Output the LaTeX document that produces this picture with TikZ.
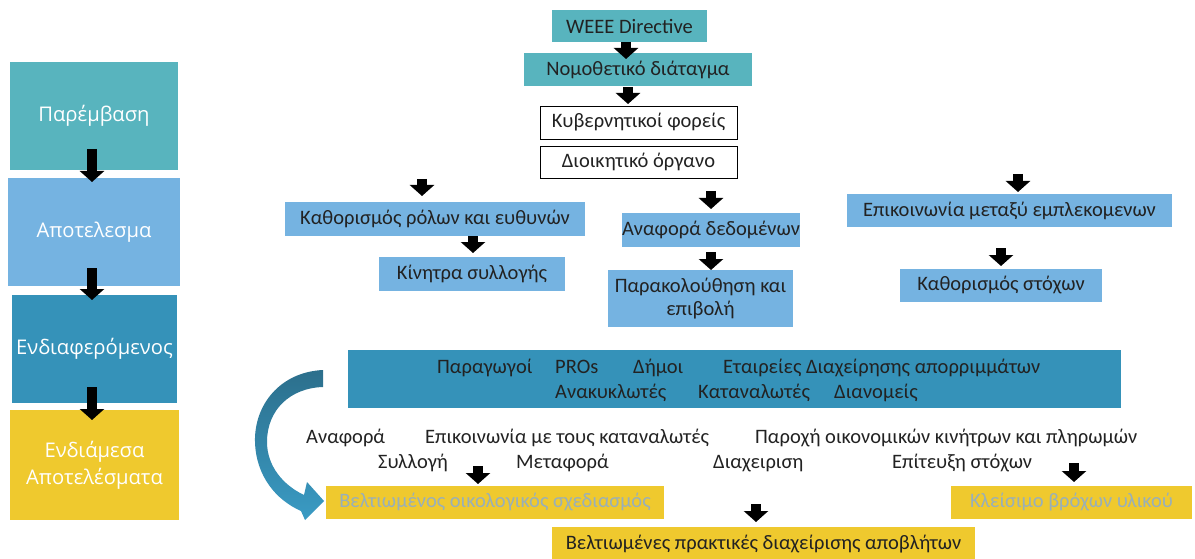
\documentclass[tikz,border=0pt]{standalone}
\usepackage{fontspec}
\setmainfont{Carlito}
\newfontfamily\sidefont{Open Sans}
\usetikzlibrary{arrows.meta}

\definecolor{tealc}{HTML}{58B4BE}
\definecolor{skyc}{HTML}{75B3E1}
\definecolor{deepc}{HTML}{3592B9}
\definecolor{goldc}{HTML}{EFC92E}
\definecolor{inkc}{HTML}{222222}
\definecolor{fadec}{HTML}{98AFBA}
\definecolor{swoopdark}{HTML}{2C6F8C}
\definecolor{swooplight}{HTML}{3A9BC4}

\tikzset{
  box/.style={rectangle, inner sep=0pt, align=center, text=inkc,
    font=\fontsize{20.5}{23}\selectfont},
  tealbox/.style={box, fill=tealc},
  skybox/.style={box, fill=skyc},
  goldbox/.style={box, fill=goldc},
  framebox/.style={box, fill=white, draw=black, line width=0.9pt},
  sidebox/.style={rectangle, inner sep=0pt, align=center, text=white,
    font=\sidefont\fontsize{20.2}{27}\selectfont},
  lbl/.style={inner sep=0pt, anchor=base west, text=inkc,
    font=\fontsize{20.5}{23}\selectfont},
  blockarrow/.style={line width=10pt, black,
    -{Triangle[width=24pt,length=11pt]}},
}

\begin{document}
\begin{tikzpicture}[x=1pt,y=-1pt]
\useasboundingbox (0,0) rectangle (1195,559);

% stage column
\node[sidebox, fill=tealc, minimum width=168pt, minimum height=108pt] (int) at (94,116) {Παρέμβαση};
\node[sidebox, fill=skyc,  minimum width=172pt, minimum height=108pt] (res) at (94,232) {Αποτελεσμα};
\node[sidebox, fill=deepc, minimum width=165pt, minimum height=108pt] (stk) at (94.5,349) {Ενδιαφερόμενος};
\node[sidebox, fill=goldc, minimum width=169pt, minimum height=110pt] (mid) at (94.5,465) {Ενδιάμεσα\\Αποτελέσματα};

\coordinate (c1a) at (92,149); \coordinate (c1b) at (92,182);
\coordinate (c2a) at (92,268); \coordinate (c2b) at (92,300);
\coordinate (c3a) at (92,387); \coordinate (c3b) at (92,420);
\draw[blockarrow] (c1a) -- (c1b);
\draw[blockarrow] (c2a) -- (c2b);
\draw[blockarrow] (c3a) -- (c3b);

% legislation and authorities
\node[tealbox, minimum width=155pt, minimum height=32pt] (weee) at (629.5,26) {WEEE Directive};
\node[tealbox, minimum width=228pt, minimum height=33pt] (nomo) at (638,69.5) {Νομοθετικό διάταγμα};
\node[framebox, minimum width=197pt, minimum height=33pt] (kyv) at (638.5,122.5) {Κυβερνητικοί φορείς};
\node[framebox, minimum width=197pt, minimum height=32pt] (dioik) at (638.5,162) {Διοικητικό όργανο};

\coordinate (t1a) at (626,42); \coordinate (t1b) at (626,59);
\coordinate (t2a) at (628,87); \coordinate (t2b) at (628,104);
\draw[blockarrow] (t1a) -- (t1b);
\draw[blockarrow] (t2a) -- (t2b);

% left branch
\node[skybox, minimum width=300pt, minimum height=34pt] (roles) at (435,219) {Καθορισμός ρόλων και ευθυνών};
\node[skybox, minimum width=186pt, minimum height=34pt] (incent) at (472,274) {Κίνητρα συλλογής};
\coordinate (l1a) at (422,179); \coordinate (l1b) at (422,196);
\coordinate (l2a) at (473,236); \coordinate (l2b) at (473,253);
\draw[blockarrow] (l1a) -- (l1b);
\draw[blockarrow] (l2a) -- (l2b);

% middle branch
\node[skybox, minimum width=178pt, minimum height=34pt] (report) at (711,230) {Αναφορά δεδομένων};
\node[skybox, minimum width=185pt, minimum height=57pt] (monitor) at (700.5,298.5) {Παρακολούθηση και\\επιβολή};
\coordinate (m1a) at (711,191); \coordinate (m1b) at (711,209);
\coordinate (m2a) at (711,252); \coordinate (m2b) at (711,270);
\draw[blockarrow] (m1a) -- (m1b);
\draw[blockarrow] (m2a) -- (m2b);

% right branch
\node[skybox, minimum width=325pt, minimum height=33pt] (comm) at (1009.5,210.5) {Επικοινωνία μεταξύ εμπλεκομενων};
\node[skybox, minimum width=202pt, minimum height=33pt] (targets) at (1001,285.5) {Καθορισμός στόχων};
\coordinate (r1a) at (1018,174); \coordinate (r1b) at (1018,192);
\coordinate (r2a) at (1001,248); \coordinate (r2b) at (1001,266);
\draw[blockarrow] (r1a) -- (r1b);
\draw[blockarrow] (r2a) -- (r2b);

% stakeholders band
\node[box, fill=deepc, minimum width=773pt, minimum height=58pt] (band) at (734.5,379) {};
\node[lbl] (s1) at (437,373) {Παραγωγοί};
\node[lbl] (s2) at (555,373) {PROs};
\node[lbl] (s3) at (633,373) {Δήμοι};
\node[lbl] (s4) at (723,373) {Εταιρείες Διαχείρησης απορριμμάτων};
\node[lbl] (s5) at (555,398) {Ανακυκλωτές};
\node[lbl] (s6) at (698,398) {Καταναλωτές};
\node[lbl] (s7) at (834,398) {Διανομείς};

% activities
\node[lbl] (a1) at (306,443) {Αναφορά};
\node[lbl] (a2) at (425,443) {Επικοινωνία με τους καταναλωτές};
\node[lbl] (a3) at (755,443) {Παροχή οικονομικών κινήτρων και πληρωμών};
\node[lbl] (a4) at (378,468) {Συλλογή};
\node[lbl] (a5) at (516,468) {Μεταφορά};
\node[lbl] (a6) at (713,468) {Διαχειριση};
\node[lbl] (a7) at (892,468) {Επίτευξη στόχων};

% intermediate outcomes
\node[goldbox, text=fadec, minimum width=338pt, minimum height=33pt] (eco) at (495,502.5) {Βελτιωμένος οικολογικός σχεδιασμός};
\node[goldbox, text=fadec, minimum width=241pt, minimum height=33pt] (loop) at (1071.5,502.5) {Κλείσιμο βρόχων υλικού};
\node[goldbox, minimum width=423pt, minimum height=34pt] (waste) at (763.5,544) {Βελτιωμένες πρακτικές διαχείρισης αποβλήτων};

\coordinate (o1a) at (478,466); \coordinate (o1b) at (478,484);
\coordinate (o2a) at (1074,463); \coordinate (o2b) at (1074,482);
\coordinate (o3a) at (756,504); \coordinate (o3b) at (756,522);
\draw[blockarrow] (o1a) -- (o1b);
\draw[blockarrow] (o2a) -- (o2b);
\draw[blockarrow] (o3a) -- (o3b);

% curved arrow from the stakeholders to the outcomes
\shade[top color=swoopdark, bottom color=swooplight]
  (323,370) .. controls (280,372) and (254,405) .. (255,442)
  .. controls (256,476) and (276,500) .. (301,511)
  -- (305,520) -- (324,501) -- (307,482) -- (304,495)
  .. controls (283,485) and (267,466) .. (267,442)
  .. controls (267,410) and (290,388) .. (323,387) -- cycle;
\end{tikzpicture}
\end{document}
